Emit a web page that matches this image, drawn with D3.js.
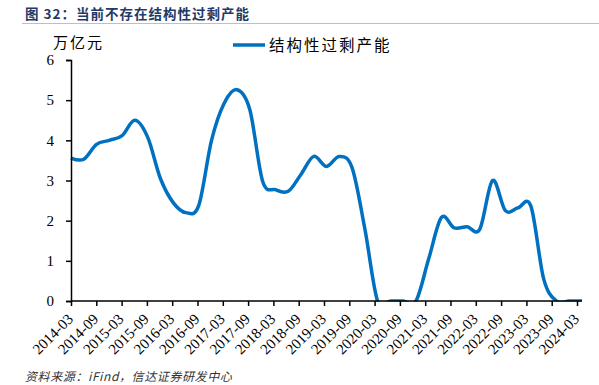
<!DOCTYPE html>
<html>
<head>
<meta charset="utf-8">
<script src="https://cdn.jsdelivr.net/npm/d3@7"></script>
<style>
  body { margin: 0; background: #fff; }
  svg { display: block; }
</style>
</head>
<body>
<svg width="599" height="385"></svg>
<script>
// quarterly values, 万亿元
const quarters = [
  "2014-03","2014-06","2014-09","2014-12","2015-03","2015-06","2015-09","2015-12",
  "2016-03","2016-06","2016-09","2016-12","2017-03","2017-06","2017-09","2017-12",
  "2018-03","2018-06","2018-09","2018-12","2019-03","2019-06","2019-09","2019-12",
  "2020-03","2020-06","2020-09","2020-12","2021-03","2021-06","2021-09","2021-12",
  "2022-03","2022-06","2022-09","2022-12","2023-03","2023-06","2023-09","2023-12",
  "2024-03"
];
const overcapacity = [
  3.56, 3.53, 3.90, 4.00, 4.12, 4.50, 4.08, 3.05,
  2.45, 2.20, 2.38, 4.00, 4.93, 5.26, 4.76, 2.98,
  2.77, 2.73, 3.15, 3.60, 3.35, 3.60, 3.32, 1.80,
  0, 0, 0, 0, 1.05, 2.08, 1.82, 1.85,
  1.79, 3.00, 2.25, 2.32, 2.36, 0.55, 0, 0,
  0
];
const tickLabels = [
  "2014-03","2014-09","2015-03","2015-09","2016-03","2016-09","2017-03","2017-09",
  "2018-03","2018-09","2019-03","2019-09","2020-03","2020-09","2021-03","2021-09",
  "2022-03","2022-09","2023-03","2023-09","2024-03"
];
const yTicks = [0, 1, 2, 3, 4, 5, 6];
const seriesName = "结构性过剩产能";

const svg = d3.select("svg");
const blue = "#0070c0";
const serif = "'Liberation Serif', 'Times New Roman', serif";
const cjk = "'Noto Sans CJK SC', sans-serif";

// title + rule
svg.append("text")
  .attr("x", 25)
  .attr("y", 19)
  .attr("font-family", cjk)
  .attr("font-size", 13.5)
  .attr("font-weight", "bold")
  .attr("letter-spacing", 1)
  .attr("fill", "#1f3a68")
  .text("图 32：当前不存在结构性过剩产能");
svg.append("line")
  .attr("x1", 22).attr("x2", 599)
  .attr("y1", 23.5).attr("y2", 23.5)
  .attr("stroke", "#bfbfbf")
  .attr("stroke-width", 1);

const x = d3.scalePoint().domain(quarters).range([71, 582]);
const xTick = d3.scalePoint().domain(tickLabels).range([71, 577]);
const y = d3.scaleLinear().domain([0, 6]).range([301, 60]);

// plot area clip, like the spreadsheet does at a fixed axis minimum
svg.append("clipPath")
  .attr("id", "plot")
  .append("rect")
  .attr("x", 60).attr("y", 40)
  .attr("width", 539).attr("height", 261.5);

// series
const line = d3.line()
  .x((d, i) => x(quarters[i]))
  .y(d => y(d))
  .curve(d3.curveCatmullRom.alpha(0));

svg.append("path")
  .datum(overcapacity)
  .attr("clip-path", "url(#plot)")
  .attr("fill", "none")
  .attr("stroke", blue)
  .attr("stroke-width", 3.5)
  .attr("stroke-linejoin", "round")
  .attr("d", line);

// y axis
const yAxis = svg.append("g")
  .attr("transform", "translate(71,0)")
  .call(d3.axisLeft(y).tickValues(yTicks).tickFormat(d3.format("d")).tickSize(5).tickPadding(12));
yAxis.select(".domain").attr("stroke", "#000").attr("stroke-width", 1.5);
yAxis.selectAll(".tick line").attr("stroke", "#000").attr("stroke-width", 1.5);
yAxis.selectAll("text")
  .attr("font-family", serif)
  .attr("font-size", 15)
  .attr("fill", "#000");

svg.append("text")
  .attr("x", 53)
  .attr("y", 48)
  .attr("font-family", cjk)
  .attr("font-size", 15)
  .attr("letter-spacing", 2)
  .attr("fill", "#000")
  .text("万亿元");

// x axis
const xAxis = svg.append("g")
  .attr("transform", "translate(0,301)")
  .call(d3.axisBottom(xTick).tickSize(5).tickSizeOuter(0).tickFormat(() => ""));
xAxis.select(".domain")
  .attr("d", "M71,0H582")
  .attr("stroke", "#000").attr("stroke-width", 1.5);
xAxis.selectAll(".tick line").attr("stroke", "#000").attr("stroke-width", 1.5);

svg.append("g")
  .selectAll("text")
  .data(tickLabels).enter()
  .append("text")
  .attr("transform", d => "translate(" + (xTick(d) + 3) + ",320) rotate(-45)")
  .attr("text-anchor", "end")
  .attr("font-family", serif)
  .attr("font-size", 15)
  .attr("fill", "#000")
  .text(d => d);

// legend
svg.append("line")
  .attr("x1", 233).attr("x2", 265)
  .attr("y1", 45).attr("y2", 45)
  .attr("stroke", blue)
  .attr("stroke-width", 3.5);
svg.append("text")
  .attr("x", 269)
  .attr("y", 51)
  .attr("font-family", cjk)
  .attr("font-size", 15.5)
  .attr("letter-spacing", 2)
  .attr("fill", "#000")
  .text(seriesName);

// source
svg.append("text")
  .attr("x", 25)
  .attr("y", 381)
  .attr("font-family", cjk)
  .attr("font-size", 12)
  .attr("letter-spacing", 0.6)
  .attr("font-style", "italic")
  .attr("fill", "#333")
  .text("资料来源：iFind，信达证券研发中心");
</script>
</body>
</html>
